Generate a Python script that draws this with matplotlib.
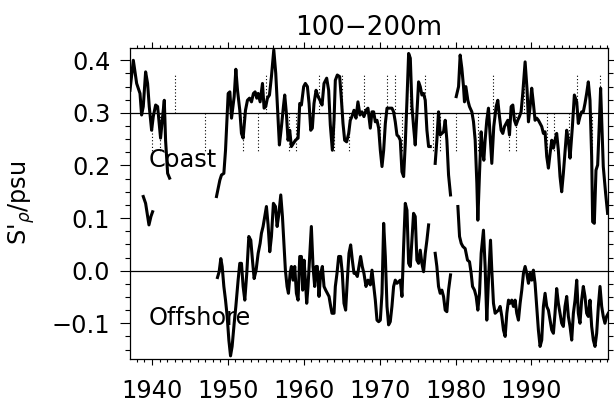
import numpy as np
import matplotlib.pyplot as plt
from matplotlib.ticker import MultipleLocator

nan = np.nan

# coastal salinity anomaly (nan = data gap)
coast_year = [
    1937.10, 1937.54, 1937.98, 1938.42, 1938.63, 1938.85, 1939.16, 1939.42, 1939.64, 1939.95,
    1940.17, 1940.48, 1940.74, 1941.13, 1941.40, 1941.62, 1941.79, 1942.06, 1942.32, nan,
    1948.50, 1948.94, 1949.16, 1949.47, 1949.69, 1950.04, 1950.26, 1950.48, 1950.83, 1951.05,
    1951.27, 1951.57, 1951.79, 1952.01, 1952.32, 1952.58, 1952.85, 1953.11, 1953.37, 1953.59,
    1953.81, 1953.99, 1954.25, 1954.56, 1954.77, 1954.99, 1955.21, 1955.48, 1955.74, 1956.05,
    1956.31, 1956.53, 1956.79, 1957.06, 1957.32, 1957.49, 1957.71, 1957.93, 1958.15, 1958.37,
    1958.63, 1958.90, 1959.25, 1959.47, 1959.69, 1959.99, 1960.21, 1960.48, 1960.70, 1960.92,
    1961.13, 1961.35, 1961.62, 1961.88, 1962.14, 1962.41, 1962.67, 1963.02, 1963.28, 1963.50,
    1963.77, 1963.99, 1964.16, 1964.42, 1964.73, 1964.95, 1965.17, 1965.39, 1965.65, 1965.92,
    1966.13, 1966.35, 1966.62, 1966.88, 1967.14, 1967.41, 1967.67, 1967.93, 1968.20, 1968.46,
    1968.77, 1968.99, 1969.21, 1969.43, 1969.65, 1969.87, 1970.09, 1970.31, 1970.53, 1970.75,
    1970.97, 1971.27, 1971.62, 1971.84, 1972.06, 1972.28, 1972.50, 1972.72, 1972.94, 1973.16,
    1973.38, 1973.60, 1973.82, 1974.04, 1974.26, 1974.47, 1974.69, 1974.91, 1975.13, 1975.35,
    1975.57, 1975.79, 1976.01, 1976.23, 1976.45, 1976.67, nan,
    1977.32, 1977.54, 1977.76, 1977.98, 1978.20, 1978.42, 1978.64, 1978.86, 1979.08, 1979.34, nan,
    1980.09, 1980.40, 1980.61, 1980.83, 1981.05, 1981.18, 1981.36, 1981.62, 1981.84, 1982.15,
    1982.37, 1982.59, 1982.81, 1982.94, 1983.16, 1983.38, 1983.55, 1983.73, 1983.90, 1984.12,
    1984.34, 1984.56, 1984.78, 1985.04, 1985.35, 1985.57, 1985.79, 1986.01, 1986.23, 1986.45,
    1986.67, 1986.89, 1987.11, 1987.33, 1987.55, 1987.76, 1987.98, 1988.20, 1988.42, 1988.64,
    1988.86, 1989.17, 1989.43, 1989.61, 1989.83, 1990.04, 1990.26, 1990.48, 1990.70, 1990.92,
    1991.14, 1991.36, 1991.58, 1991.80, 1992.02, 1992.24, 1992.46, 1992.68, 1992.90, 1993.11,
    1993.33, 1993.55, 1993.77, 1993.99, 1994.21, 1994.43, 1994.65, 1994.87, 1995.09, 1995.40,
    1995.66, 1995.97, 1996.18, 1996.40, 1996.62, 1996.84, 1997.06, 1997.28, 1997.50, 1997.72,
    1997.94, 1998.07, 1998.29, 1998.51, 1998.73, 1998.95, 1999.12, 1999.47, 1999.78, 2000.04,
]
coast_val = [
    0.343, 0.400, 0.356, 0.337, 0.296, 0.312, 0.378, 0.356, 0.312, 0.267,
    0.293, 0.315, 0.312, 0.252, 0.293, 0.324, 0.248, 0.185, 0.176, nan,
    0.141, 0.172, 0.182, 0.185, 0.229, 0.337, 0.340, 0.290, 0.331, 0.383,
    0.343, 0.305, 0.261, 0.252, 0.305, 0.324, 0.328, 0.321, 0.337, 0.340,
    0.328, 0.337, 0.321, 0.356, 0.309, 0.312, 0.328, 0.334, 0.369, 0.420,
    0.375, 0.312, 0.239, 0.274, 0.312, 0.334, 0.299, 0.248, 0.267, 0.236,
    0.242, 0.248, 0.252, 0.318, 0.315, 0.350, 0.356, 0.350, 0.318, 0.267,
    0.271, 0.318, 0.343, 0.331, 0.324, 0.315, 0.356, 0.366, 0.343, 0.277,
    0.229, 0.286, 0.362, 0.372, 0.369, 0.328, 0.280, 0.248, 0.245, 0.261,
    0.286, 0.293, 0.305, 0.290, 0.321, 0.296, 0.302, 0.293, 0.305, 0.309,
    0.271, 0.302, 0.302, 0.283, 0.286, 0.271, 0.229, 0.198, 0.229, 0.280,
    0.309, 0.309, 0.309, 0.302, 0.283, 0.258, 0.255, 0.248, 0.188, 0.179,
    0.242, 0.324, 0.413, 0.404, 0.312, 0.274, 0.239, 0.299, 0.359, 0.350,
    0.334, 0.337, 0.324, 0.267, 0.236, 0.236, nan,
    0.204, 0.248, 0.302, 0.258, 0.261, 0.264, 0.286, 0.248, 0.182, 0.144, nan,
    0.331, 0.350, 0.410, 0.385, 0.350, 0.321, 0.350, 0.324, 0.312, 0.302,
    0.283, 0.248, 0.166, 0.096, 0.185, 0.264, 0.229, 0.210, 0.248, 0.286,
    0.309, 0.255, 0.204, 0.274, 0.312, 0.324, 0.293, 0.267, 0.261, 0.274,
    0.280, 0.286, 0.258, 0.312, 0.315, 0.286, 0.277, 0.286, 0.293, 0.302,
    0.337, 0.397, 0.343, 0.283, 0.312, 0.347, 0.318, 0.286, 0.290, 0.286,
    0.280, 0.274, 0.261, 0.264, 0.217, 0.195, 0.223, 0.248, 0.233, 0.248,
    0.261, 0.229, 0.179, 0.150, 0.185, 0.226, 0.267, 0.248, 0.214, 0.274,
    0.334, 0.321, 0.280, 0.293, 0.302, 0.302, 0.318, 0.337, 0.359, 0.324,
    0.217, 0.093, 0.090, 0.191, 0.201, 0.280, 0.347, 0.198, 0.147, 0.109,
]

# offshore salinity anomaly (nan = data gap)
off_year = [
    1938.85, 1939.16, 1939.42, 1939.60, 1939.86, 1940.08, nan,
    1948.63, 1948.85, 1949.07, 1949.25, 1949.47, 1949.69, 1949.91, 1950.13, 1950.35, 1950.56,
    1950.83, 1951.05, 1951.35, 1951.57, 1951.79, 1952.01, 1952.23, 1952.49, 1952.76, 1953.02,
    1953.24, 1953.46, 1953.72, 1953.99, 1954.25, 1954.42, 1954.64, 1954.86, 1955.08, 1955.30,
    1955.52, 1955.74, 1956.00, 1956.27, 1956.49, 1956.70, 1956.97, 1957.19, 1957.41, 1957.58,
    1957.80, 1957.98, 1958.20, 1958.37, 1958.59, 1958.81, 1959.03, 1959.25, 1959.47, 1959.69,
    1959.86, 1960.04, 1960.21, 1960.39, 1960.56, 1960.78, 1961.00, 1961.22, 1961.44, 1961.62,
    1961.79, 1962.01, 1962.23, 1962.45, 1962.67, 1962.89, 1963.11, 1963.33, 1963.55, 1963.72,
    1963.99, 1964.16, 1964.38, 1964.60, 1964.86, 1965.08, 1965.30, 1965.52, 1965.74, 1965.96,
    1966.18, 1966.40, 1966.62, 1966.84, 1967.06, 1967.28, 1967.49, 1967.71, 1967.93, 1968.20,
    1968.46, 1968.77, 1968.99, 1969.21, 1969.43, 1969.65, 1969.87, 1970.09, 1970.31, 1970.53,
    1970.75, 1970.97, 1971.18, 1971.40, 1971.62, 1971.84, 1972.06, 1972.28, 1972.50, 1972.72,
    1972.94, 1973.16, 1973.38, 1973.60, 1973.82, 1974.04, 1974.26, 1974.47, 1974.69, 1974.91,
    1975.13, 1975.35, 1975.57, 1975.79, 1976.01, 1976.23, 1976.45, nan,
    1977.32, 1977.54, 1977.76, 1977.98, 1978.20, 1978.42, 1978.64, 1978.86, 1979.08, 1979.34, nan,
    1980.31, 1980.53, 1980.75, 1980.97, 1981.27, 1981.58, 1981.84, 1982.06, 1982.24, 1982.50,
    1982.72, 1982.94, 1983.16, 1983.38, 1983.68, 1983.90, 1984.12, 1984.34, 1984.61, 1984.78,
    1985.00, 1985.22, 1985.44, 1985.66, 1985.88, 1986.10, 1986.32, 1986.54, 1986.76, 1986.98,
    1987.20, 1987.41, 1987.63, 1987.85, 1988.07, 1988.29, 1988.51, 1988.73, 1988.95, 1989.17,
    1989.39, 1989.61, 1989.83, 1990.04, 1990.26, 1990.48, 1990.70, 1990.92, 1991.14, 1991.36,
    1991.58, 1991.80, 1992.02, 1992.24, 1992.46, 1992.68, 1992.90, 1993.11, 1993.33, 1993.55,
    1993.77, 1993.99, 1994.21, 1994.43, 1994.65, 1994.87, 1995.09, 1995.31, 1995.53, 1995.75,
    1995.97, 1996.18, 1996.40, 1996.62, 1996.84, 1997.06, 1997.28, 1997.50, 1997.72, 1997.94,
    1998.16, 1998.38, 1998.60, 1998.82, 1999.04, 1999.26, 1999.47, 1999.69, 1999.91, 2000.13,
]
off_val = [
    0.141, 0.128, 0.103, 0.087, 0.103, 0.112, nan,
    -0.013, -0.002, 0.023, 0.008, -0.030, -0.056, -0.087, -0.132, -0.162, -0.144,
    -0.100, -0.068, -0.018, 0.014, 0.014, -0.030, -0.056, -0.005, 0.065, 0.058,
    0.020, -0.015, 0.001, 0.033, 0.052, 0.071, 0.084, 0.103, 0.122, 0.087,
    0.036, 0.065, 0.128, 0.122, 0.084, 0.106, 0.144, 0.103, 0.046, 0.001,
    -0.030, -0.043, -0.005, 0.008, -0.018, 0.008, -0.043, -0.056, 0.027, 0.027,
    -0.037, 0.020, -0.018, -0.062, -0.030, 0.027, 0.084, 0.008, -0.030, 0.008,
    0.008, -0.049, -0.005, 0.008, -0.030, -0.037, -0.043, -0.049, -0.068, -0.081,
    -0.081, -0.030, -0.005, 0.027, 0.027, -0.005, -0.062, -0.075, -0.018, 0.033,
    0.049, 0.020, -0.005, -0.005, -0.011, 0.008, 0.027, 0.008, -0.005, -0.030,
    -0.018, -0.027, 0.001, -0.027, -0.056, -0.094, -0.097, -0.094, -0.043, 0.090,
    0.027, -0.068, -0.103, -0.097, -0.068, -0.030, -0.018, -0.024, -0.021, -0.018,
    -0.049, 0.046, 0.128, 0.115, 0.014, 0.008, 0.058, 0.109, 0.103, 0.020,
    0.014, 0.039, 0.014, -0.002, 0.033, 0.058, 0.087, nan,
    0.033, 0.008, -0.030, -0.043, -0.037, -0.049, -0.075, -0.078, -0.037, -0.008, nan,
    0.122, 0.065, 0.052, 0.046, 0.042, 0.020, 0.017, -0.005, -0.030, -0.037,
    -0.049, -0.075, -0.043, 0.033, 0.077, 0.008, -0.094, -0.018, 0.058, 0.001,
    -0.062, -0.081, -0.078, -0.075, -0.068, -0.087, -0.113, -0.125, -0.081, -0.056,
    -0.062, -0.056, -0.068, -0.056, -0.081, -0.094, -0.062, -0.037, -0.005, 0.008,
    -0.005, -0.024, -0.005, -0.018, 0.001, -0.024, -0.068, -0.113, -0.144, -0.132,
    -0.068, -0.043, -0.068, -0.075, -0.094, -0.113, -0.119, -0.081, -0.034, -0.062,
    -0.081, -0.100, -0.106, -0.068, -0.049, -0.087, -0.106, -0.132, -0.081, -0.056,
    -0.018, -0.081, -0.100, -0.056, -0.030, -0.049, -0.081, -0.087, -0.056, -0.106,
    -0.132, -0.144, -0.119, -0.068, -0.030, -0.068, -0.087, -0.100, -0.087, -0.081,
]

# years marked with dotted stems above / below the 0.3 line
up_years = [1943, 1955, 1962, 1965, 1968, 1971, 1972, 1974, 1976, 1985, 1989, 1996, 1999]
down_years = [1940, 1941, 1947, 1952, 1954, 1958, 1959, 1964, 1966, 1970, 1973, 1977,
              1978, 1980, 1983, 1987, 1988, 1992, 1993, 1995, 1998]
coast_ref = 0.3
stem = 0.075

xtick_years = [1940, 1950, 1960, 1970, 1980, 1990]

fig = plt.figure(figsize=(6.14, 4.04), dpi=100)
ax = fig.add_axes([0.2117, 0.1126, 0.778, 0.7686])

ax.axhline(coast_ref, color='k', lw=0.9)
ax.axhline(0.0, color='k', lw=0.9)
ax.vlines(up_years, coast_ref, coast_ref + stem, colors='k', linestyles=(0, (1, 2)), lw=0.8)
ax.vlines(down_years, coast_ref, coast_ref - stem, colors='k', linestyles=(0, (1, 2)), lw=0.8)

ax.plot(coast_year, coast_val, color='k', lw=2.2)
ax.plot(off_year, off_val, color='k', lw=2.2)

ax.text(1939.55, 0.198, 'Coast', fontsize=17.3, ha='left', va='baseline')
ax.text(1939.55, -0.103, 'Offshore', fontsize=17.3, ha='left', va='baseline')

ax.set_xlim(1937.1, 2000.05)
ax.set_ylim(-0.167, 0.4234)
ax.set_xticks(xtick_years)
ax.xaxis.set_minor_locator(MultipleLocator(1))
ax.yaxis.set_major_locator(MultipleLocator(0.1))
ax.yaxis.set_minor_locator(MultipleLocator(0.025))

ax.tick_params(which='both', direction='out', top=True, right=True, width=0.8)
ax.tick_params(axis='x', which='major', length=4.5, pad=10, labelsize=17.3)
ax.tick_params(axis='x', which='minor', length=2.2)
ax.tick_params(axis='y', which='major', length=7.2, pad=7, labelsize=17.3)
ax.tick_params(axis='y', which='minor', length=3.6)
for s in ax.spines.values():
    s.set_linewidth(0.9)

ax.set_title('100\u2212200m', fontsize=18.8, pad=9)
ax.set_ylabel("S'$_{\\rho}$/psu", fontsize=17.3)
ax.yaxis.set_label_coords(-0.195, 0.5)

fig.savefig('out.png', dpi=100)
